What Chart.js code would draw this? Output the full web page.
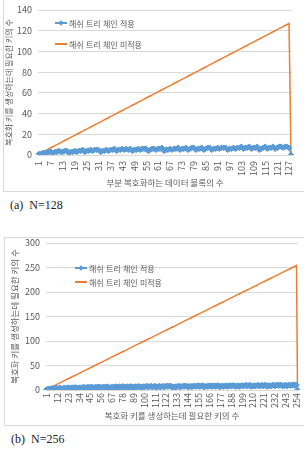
<!DOCTYPE html>
<html lang="ko">
<head>
<meta charset="UTF-8">
<title>해쉬 트리 체인 적용 여부에 따른 키의 수</title>
<script src="https://cdn.jsdelivr.net/npm/chart.js"></script>
<style>
  body {
    margin: 0;
    width: 304px;
    height: 452px;
    position: relative;
    overflow: hidden;
    background: #fff;
    font-family: 'Noto Sans CJK KR', 'Noto Sans', sans-serif;
  }
  .frame {
    position: absolute;
    box-sizing: border-box;
    border: 1px solid #d9d9d9;
  }
  canvas { position: absolute; }
  .legend-item {
    position: absolute;
    height: 10px;
    display: flex;
    align-items: center;
    white-space: nowrap;
    font-size: 8px;
    color: #595959;
  }
  .legend-sym {
    position: relative;
    width: 12px;
    height: 10px;
    margin-right: 2px;
  }
  .caption {
    position: absolute;
    font-family: 'Liberation Serif', 'Times New Roman', serif;
    font-size: 12px;
    line-height: 14px;
    color: #222;
    white-space: pre;
  }
</style>
</head>
<body>
  <div class="frame" style="left:3px; top:-1px; width:302px; height:193px;"></div>
  <canvas id="chartA" width="299" height="190" style="left:4px; top:0px;"></canvas>
  <div class="caption" style="left:10px; top:198px;">(a)  N=128</div>

  <div class="frame" style="left:4px; top:237px; width:301px; height:189px;"></div>
  <canvas id="chartB" width="298" height="186" style="left:5px; top:238px;"></canvas>
  <div class="caption" style="left:11px; top:432px;">(b)  N=256</div>

<script>
// ---- data: N = 128 ----
const tickLabelsA = [1, 7, 13, 19, 25, 31, 37, 43, 49, 55, 61, 67, 73, 79, 85, 91, 97, 103, 109, 115, 121, 127];
const withChainA = [
  1, 1, 2, 2, 2, 3, 3, 2, 3, 3, 4, 3, 3, 4, 4, 2,
  3, 3, 4, 3, 4, 4, 5, 3, 4, 4, 5, 4, 5, 5, 5, 3,
  4, 4, 5, 4, 5, 5, 6, 4, 5, 5, 6, 5, 6, 5, 6, 4,
  5, 5, 6, 5, 6, 6, 6, 4, 5, 6, 6, 5, 6, 6, 7, 4,
  5, 5, 6, 5, 6, 6, 7, 5, 6, 6, 7, 5, 6, 7, 7, 5,
  6, 6, 7, 5, 6, 7, 7, 5, 6, 6, 7, 6, 7, 7, 7, 5,
  6, 6, 7, 6, 7, 7, 8, 6, 7, 7, 8, 6, 7, 7, 8, 5,
  6, 7, 8, 6, 7, 7, 8, 6, 7, 8, 8, 7, 8, 8, 7, 0
];
const withoutChainA = [
  1, 2, 3, 4, 5, 6, 7, 8, 9, 10, 11, 12, 13, 14, 15, 16,
  17, 18, 19, 20, 21, 22, 23, 24, 25, 26, 27, 28, 29, 30, 31, 32,
  33, 34, 35, 36, 37, 38, 39, 40, 41, 42, 43, 44, 45, 46, 47, 48,
  49, 50, 51, 52, 53, 54, 55, 56, 57, 58, 59, 60, 61, 62, 63, 64,
  65, 66, 67, 68, 69, 70, 71, 72, 73, 74, 75, 76, 77, 78, 79, 80,
  81, 82, 83, 84, 85, 86, 87, 88, 89, 90, 91, 92, 93, 94, 95, 96,
  97, 98, 99, 100, 101, 102, 103, 104, 105, 106, 107, 108, 109, 110, 111, 112,
  113, 114, 115, 116, 117, 118, 119, 120, 121, 122, 123, 124, 125, 126, 127, 0
];

// ---- data: N = 256 ----
const tickLabelsB = [1, 12, 23, 34, 45, 56, 67, 78, 89, 100, 111, 122, 133, 144, 155, 166, 177, 188, 199, 210, 221, 232, 243, 254];
const withChainB = [
  1, 1, 2, 2, 2, 3, 3, 2, 3, 3, 4, 3, 3, 4, 4, 2,
  3, 3, 4, 3, 4, 4, 5, 3, 4, 4, 5, 4, 5, 5, 5, 3,
  4, 4, 5, 4, 5, 5, 6, 4, 5, 5, 6, 5, 6, 5, 6, 4,
  5, 5, 6, 5, 6, 6, 6, 4, 5, 6, 6, 5, 6, 6, 7, 4,
  5, 5, 6, 5, 6, 6, 7, 5, 6, 6, 7, 5, 6, 7, 7, 5,
  6, 6, 7, 5, 6, 7, 7, 5, 6, 6, 7, 6, 7, 7, 7, 5,
  6, 6, 7, 6, 7, 7, 8, 6, 7, 7, 8, 6, 7, 7, 8, 5,
  6, 7, 8, 6, 7, 7, 8, 6, 7, 8, 8, 7, 8, 8, 8, 5,
  6, 6, 7, 6, 7, 7, 8, 6, 7, 7, 8, 7, 8, 8, 8, 6,
  7, 7, 8, 6, 7, 8, 8, 7, 8, 8, 9, 7, 8, 8, 9, 6,
  7, 7, 8, 7, 8, 8, 9, 7, 8, 8, 9, 7, 8, 9, 9, 6,
  7, 8, 8, 7, 8, 8, 9, 7, 8, 9, 9, 8, 9, 9, 9, 7,
  8, 8, 9, 7, 8, 9, 9, 8, 9, 9, 10, 8, 9, 9, 10, 7,
  8, 8, 9, 8, 9, 9, 10, 8, 9, 9, 10, 8, 9, 10, 10, 7,
  8, 9, 9, 8, 9, 10, 10, 8, 9, 10, 10, 9, 10, 10, 10, 8,
  9, 9, 10, 8, 9, 10, 10, 9, 10, 10, 11, 9, 10, 10, 0
];
const withoutChainB = [
  1, 2, 3, 4, 5, 6, 7, 8, 9, 10, 11, 12, 13, 14, 15, 16, 17, 18, 19, 20,
  21, 22, 23, 24, 25, 26, 27, 28, 29, 30, 31, 32, 33, 34, 35, 36, 37, 38, 39, 40,
  41, 42, 43, 44, 45, 46, 47, 48, 49, 50, 51, 52, 53, 54, 55, 56, 57, 58, 59, 60,
  61, 62, 63, 64, 65, 66, 67, 68, 69, 70, 71, 72, 73, 74, 75, 76, 77, 78, 79, 80,
  81, 82, 83, 84, 85, 86, 87, 88, 89, 90, 91, 92, 93, 94, 95, 96, 97, 98, 99, 100,
  101, 102, 103, 104, 105, 106, 107, 108, 109, 110, 111, 112, 113, 114, 115, 116, 117, 118, 119, 120,
  121, 122, 123, 124, 125, 126, 127, 128, 129, 130, 131, 132, 133, 134, 135, 136, 137, 138, 139, 140,
  141, 142, 143, 144, 145, 146, 147, 148, 149, 150, 151, 152, 153, 154, 155, 156, 157, 158, 159, 160,
  161, 162, 163, 164, 165, 166, 167, 168, 169, 170, 171, 172, 173, 174, 175, 176, 177, 178, 179, 180,
  181, 182, 183, 184, 185, 186, 187, 188, 189, 190, 191, 192, 193, 194, 195, 196, 197, 198, 199, 200,
  201, 202, 203, 204, 205, 206, 207, 208, 209, 210, 211, 212, 213, 214, 215, 216, 217, 218, 219, 220,
  221, 222, 223, 224, 225, 226, 227, 228, 229, 230, 231, 232, 233, 234, 235, 236, 237, 238, 239, 240,
  241, 242, 243, 244, 245, 246, 247, 248, 249, 250, 251, 252, 253, 254, 0
];

const seriesNames = ['해쉬 트리 체인 적용', '해쉬 트리 체인 미적용'];
const BLUE = '#5b9bd5';
const ORANGE = '#ed7d31';
const GRID = '#d9d9d9';
const TEXT = '#595959';

Chart.defaults.font.family = "'Noto Sans CJK KR', 'Noto Sans', sans-serif";
Chart.defaults.color = TEXT;

function makeChart(id, opt) {
  const categories = Array.from({ length: opt.blue.length }, (_, i) => i + 1);
  return new Chart(document.getElementById(id), {
    type: 'line',
    data: {
      labels: categories,
      datasets: [{
        label: seriesNames[0],
        data: opt.blue,
        borderColor: BLUE,
        backgroundColor: BLUE,
        borderWidth: 1.5,
        pointStyle: 'rectRot',
        pointRadius: 2.8,
        pointBorderWidth: 1,
        tension: 0
      }, {
        label: seriesNames[1],
        data: opt.orange,
        borderColor: ORANGE,
        backgroundColor: ORANGE,
        borderWidth: 1.5,
        pointRadius: 0,
        tension: 0
      }]
    },
    options: {
      responsive: false,
      animation: false,
      events: [],
      layout: { padding: opt.padding },
      plugins: { legend: { display: false }, tooltip: { enabled: false } },
      scales: {
        x: {
          offset: true,
          grid: { display: false, drawTicks: false },
          border: { display: true, color: GRID },
          ticks: {
            autoSkip: false,
            minRotation: 90,
            maxRotation: 90,
            padding: opt.xTickPad,
            font: { size: 9 },
            callback: function (value) {
              const lab = this.getLabelForValue(value);
              return opt.ticks.includes(lab) ? String(lab) : null;
            }
          },
          title: {
            display: true,
            text: opt.xTitle,
            font: { size: 8.5 },
            padding: { top: 0, bottom: opt.xTitlePad }
          },
          afterFit: function (scale) {
            scale.height = opt.xHeight;
            scale.paddingLeft = 0;
            scale.paddingRight = 0;
          }
        },
        y: {
          min: 0,
          max: opt.yMax,
          grid: { color: GRID, drawTicks: false },
          border: { display: false },
          ticks: { stepSize: opt.yStep, padding: 6, font: { size: 9 } },
          title: {
            display: true,
            text: '복호화 키를 생성하는데 필요한 키의 수',
            font: { size: opt.yTitleSize },
            padding: { top: opt.yTitlePad, bottom: 0 }
          },
          afterFit: function (scale) {
            scale.width = opt.yWidth;
            scale.paddingTop = 0;
            scale.paddingBottom = 0;
          }
        }
      }
    }
  });
}

// html legend placed inside the plot area, built from the chart datasets
function addLegend(chart, x, y, gap) {
  chart.data.datasets.forEach(function (ds, i) {
    const item = document.createElement('div');
    item.className = 'legend-item';
    item.style.left = x + 'px';
    item.style.top = (y + i * gap - 5) + 'px';

    const sym = document.createElement('span');
    sym.className = 'legend-sym';
    const line = document.createElement('span');
    line.style.cssText = 'position:absolute;left:0;top:4px;width:12px;height:2px;background:' + ds.borderColor;
    sym.appendChild(line);
    if (ds.pointStyle) {
      const dot = document.createElement('span');
      dot.style.cssText = 'position:absolute;left:4px;top:3px;width:4px;height:4px;transform:rotate(45deg);background:' + ds.backgroundColor;
      sym.appendChild(dot);
    }
    item.appendChild(sym);
    item.appendChild(document.createTextNode(ds.label));
    document.body.appendChild(item);
  });
}

const chartA = makeChart('chartA', {
  blue: withChainA, orange: withoutChainA, ticks: tickLabelsA,
  xTitle: '부분 복호화하는 데이터 블록의 수',
  yMax: 140, yStep: 20,
  padding: { top: 10, right: 11, bottom: 0, left: 0 },
  xHeight: 35, yWidth: 34, xTickPad: 6, xTitlePad: 2,
  yTitleSize: 8, yTitlePad: 0
});
const chartB = makeChart('chartB', {
  blue: withChainB, orange: withoutChainB, ticks: tickLabelsB,
  xTitle: '복호화 키를 생성하는데 필요한 키의 수',
  yMax: 300, yStep: 50,
  padding: { top: 5, right: 3, bottom: 0, left: 0 },
  xHeight: 34, yWidth: 41, xTickPad: 3, xTitlePad: 3,
  yTitleSize: 8.5, yTitlePad: 5
});

addLegend(chartA, 55, 23, 21);
addLegend(chartB, 75, 268, 14);
</script>
</body>
</html>
